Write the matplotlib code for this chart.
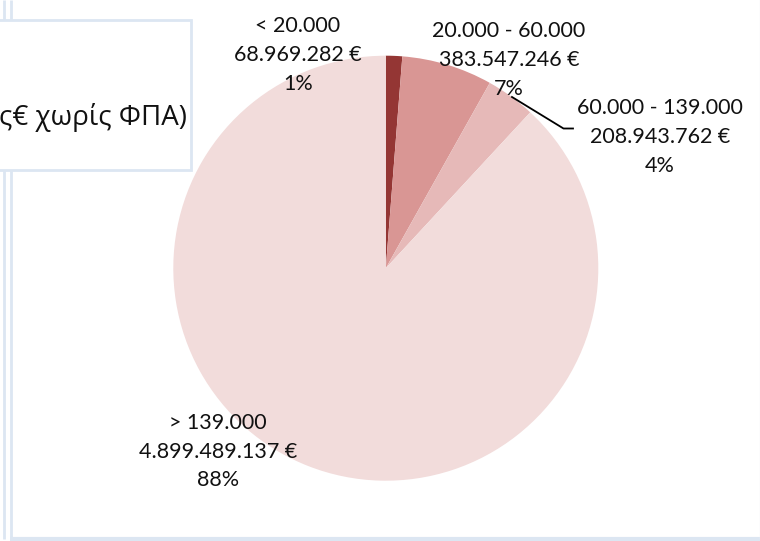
import matplotlib
matplotlib.use("Agg")
import matplotlib.pyplot as plt
from matplotlib.patches import Rectangle

# ─── DATA ────────────────────────────────────────────────────
categories = ["< 20.000", "20.000 - 60.000", "60.000 - 139.000", "> 139.000"]
amounts = [68969282, 383547246, 208943762, 4899489137]
amount_labels = ["68.969.282 €", "383.547.246 €", "208.943.762 €", "4.899.489.137 €"]
pct_labels = ["1%", "7%", "4%", "88%"]
title_visible = "ς€ χωρίς ΦΠΑ)"

# ─── STYLE ───────────────────────────────────────────────────
COLORS = ["#943634", "#d99694", "#e6b9b8", "#f2dcdb"]
BORDER = "#dce6f2"
W, H = 760, 541
FONT = ["Lato", "Open Sans", "DejaVu Sans"]

fig = plt.figure(figsize=(W / 100, H / 100), dpi=100)
ax = fig.add_axes([0, 0, 1, 1])

# cadre de la feuille (lignes bleu pâle)
for x in (4, 10.5):
    ax.plot([x, x], [0, 539], color=BORDER, lw=2, solid_capstyle="butt")
ax.plot([10, W], [538.5, 538.5], color=BORDER, lw=3, solid_capstyle="butt")
ax.plot([759.5, 759.5], [0, 538], color="#f0f3f8", lw=1)

# zone de titre (coupée à gauche)
ax.add_patch(Rectangle((-5, 19.5), 196, 150, facecolor="white",
                       edgecolor=BORDER, lw=2, zorder=3))
ax.text(187, 118, title_visible, ha="right", va="center", fontsize=20,
        family=["Open Sans", "DejaVu Sans"], color="#111111", zorder=4)

# camembert : y inversé -> sens trigo = sens horaire à l'écran
cx, cy, r = 385.8, 268.2, 212.5
wedges, _ = ax.pie(amounts, colors=COLORS, startangle=-90, counterclock=True,
                   center=(cx, cy), radius=r, frame=True,
                   wedgeprops=dict(linewidth=0))
ax.set_xlim(0, W)
ax.set_ylim(H, 0)
ax.set_aspect("equal")
ax.axis("off")

# positions (centre de la ligne du milieu) des étiquettes
label_pos = [(298, 55), (509, 60), (660, 137), (218, 451.5)]
for cat, amt, pct, (lx, ly) in zip(categories, amount_labels, pct_labels, label_pos):
    ax.text(lx, ly, f"{cat}\n{amt}\n{pct}", ha="center", va="center",
            fontsize=15.5, family=FONT, color="#111111", linespacing=1.55)

# ligne de rappel pour 60.000 - 139.000
ax.plot([512, 563.5, 573], [97, 128.5, 128.5], color="black", lw=1.3)

fig.savefig("out.png", dpi=100)
